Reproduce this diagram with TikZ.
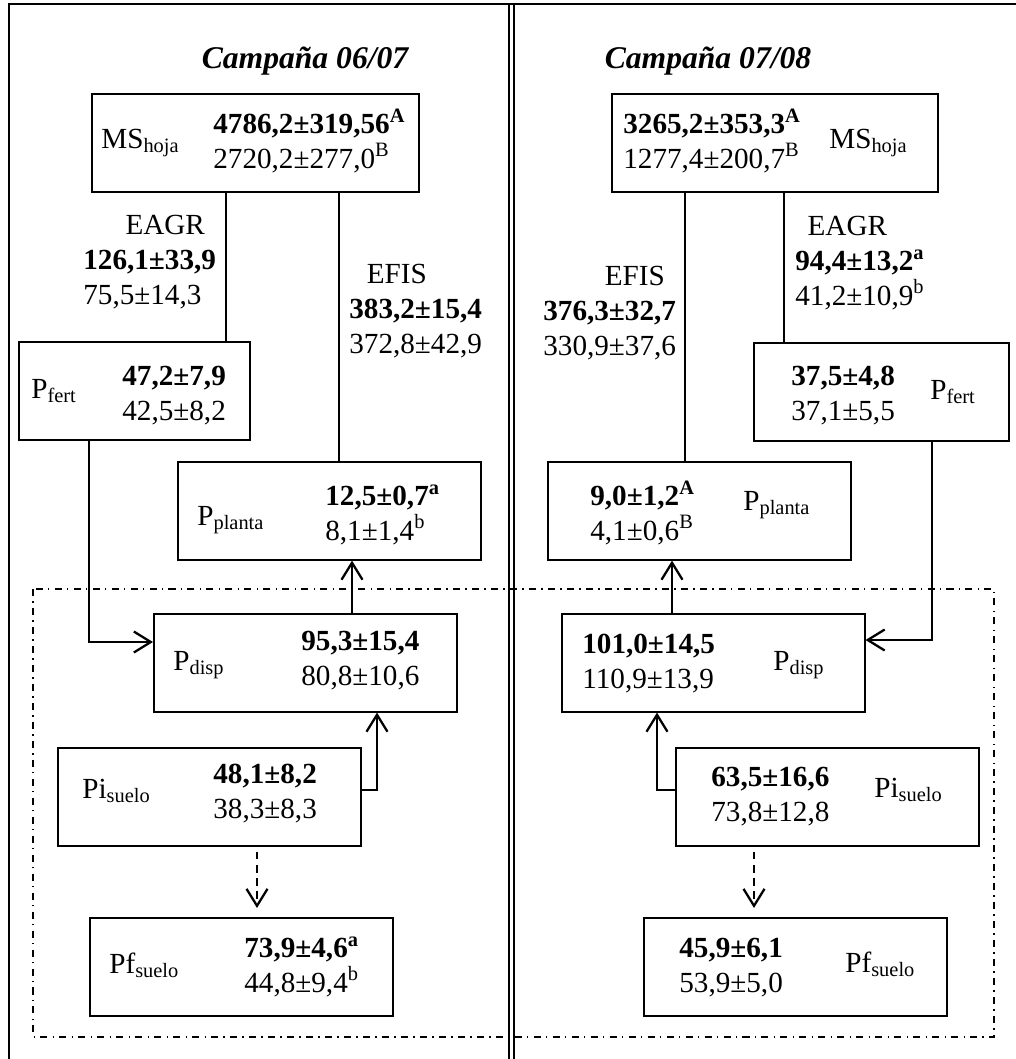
\documentclass[tikz,border=0pt]{standalone}
\usepackage{fontspec}
\setmainfont{Liberation Serif}
\usetikzlibrary{arrows.meta}
\tikzset{
  box/.style  = {rectangle, draw=black, line width=0.9pt, inner sep=0pt,
                 anchor=north west, minimum width=6.06cm, minimum height=1.96cm},
  txt/.style  = {anchor=base west, inner sep=0pt, align=left,
                 font=\fontsize{16.6}{19.8}\selectfont},
  ttl/.style  = {anchor=base, inner sep=0pt,
                 font=\fontsize{18}{22}\selectfont\bfseries\itshape},
  ln/.style   = {draw=black, line width=0.8pt},
  ar/.style   = {-{Straight Barb[length=0.34cm, width=0.42cm]}, draw=black, line width=1.3pt},
  dar/.style  = {ar, dash pattern=on 4.5pt off 3pt},
  frm/.style  = {draw=black, line width=1.2pt}
}

\begin{document}
\begin{tikzpicture}[x=0.02cm, y=-0.02cm]
  \useasboundingbox (0,0) rectangle (1016,1059);

  % ===================== marco y zona del suelo =====================
  \draw[line width=0.8pt, dash pattern=on 4pt off 3pt on 0.8pt off 3pt]
    (33,589) rectangle (994,1037);
  \draw[frm] (9,1059) -- (9,4) -- (1016,4);
  \draw[frm] (509,4) -- (509,1059);
  \draw[frm] (514,4) -- (514,1059);

  % ===================== Campaña 06/07 =====================
  \node[ttl] (t1) at (305,68) {Campaña 06/07};

  \node[box, minimum width=6.54cm] (msL) at (91,93) {};
  \node[txt] (msLn) at (101,148) {MS\textsubscript{hoja}};
  \node[txt] (msLv) at (213,168) {\textbf{4786,2±319,56\textsuperscript{A}}\\2720,2±277,0\textsuperscript{B}};

  \node[txt] (eagrL) at (83,304) {\hspace*{24pt}EAGR\\\textbf{126,1±33,9}\\75,5±14,3};
  \node[txt] (efisL) at (349,353) {\hspace*{10pt}EFIS\\\textbf{383,2±15,4}\\372,8±42,9};

  \node[box, minimum width=4.62cm] (pfL) at (18,341) {};
  \node[txt] (pfLn) at (31,398) {P\textsubscript{fert}};
  \node[txt] (pfLv) at (122,420) {\textbf{47,2±7,9}\\42,5±8,2};

  \node[box] (ppL) at (177,461) {};
  \node[txt] (ppLn) at (197,525) {P\textsubscript{planta}};
  \node[txt] (ppLv) at (325,540) {\textbf{12,5±0,7\textsuperscript{a}}\\8,1±1,4\textsuperscript{b}};

  \node[box] (pdL) at (153,613) {};
  \node[txt] (pdLn) at (173,670) {P\textsubscript{disp}};
  \node[txt] (pdLv) at (301,685) {\textbf{95,3±15,4}\\80,8±10,6};

  \node[box] (piL) at (57,747) {};
  \node[txt] (piLn) at (82,798) {Pi\textsubscript{suelo}};
  \node[txt] (piLv) at (213,818) {\textbf{48,1±8,2}\\38,3±8,3};

  \node[box] (psL) at (89,917) {};
  \node[txt] (psLn) at (109,973) {Pf\textsubscript{suelo}};
  \node[txt] (psLv) at (244,992) {\textbf{73,9±4,6\textsuperscript{a}}\\44,8±9,4\textsuperscript{b}};

  \coordinate (xa) at (226,0);
  \coordinate (xe) at (339,0);
  \coordinate (xp) at (352,0);
  \coordinate (cf) at (89,642);
  \coordinate (ci) at (377,790);
  \coordinate (xd) at (257,0);
  \draw[ln] (xa |- msL.south) -- (xa |- pfL.north);
  \draw[ln] (xe |- msL.south) -- (xe |- ppL.north);
  \draw[ar] (cf |- pfL.south) -- (cf) -- (cf -| pdL.west);
  \draw[ar] (xp |- pdL.north) -- (xp |- ppL.south);
  \draw[ar] (ci -| piL.east) -- (ci) -- (ci |- pdL.south);
  \draw[dar, shorten <=0.1cm, shorten >=0.18cm] (xd |- piL.south) -- (xd |- psL.north);

  % ===================== Campaña 07/08 =====================
  \node[ttl] (t2) at (708,68) {Campaña 07/08};

  \node[box, minimum width=6.52cm] (msR) at (611,93) {};
  \node[txt] (msRv) at (623,168) {\textbf{3265,2±353,3\textsuperscript{A}}\\1277,4±200,7\textsuperscript{B}};
  \node[txt] (msRn) at (829,148) {MS\textsubscript{hoja}};

  \node[txt] (efisR) at (543,355) {\hspace*{35pt}EFIS\\\textbf{376,3±32,7}\\330,9±37,6};
  \node[txt] (eagrR) at (795,305) {\hspace*{7pt}EAGR\\\textbf{94,4±13,2\textsuperscript{a}}\\41,2±10,9\textsuperscript{b}};

  \node[box, minimum width=5.1cm] (pfR) at (753,342) {};
  \node[txt] (pfRv) at (791,420) {\textbf{37,5±4,8}\\37,1±5,5};
  \node[txt] (pfRn) at (930,399) {P\textsubscript{fert}};

  \node[box] (ppR) at (547,461) {};
  \node[txt] (ppRv) at (590,540) {\textbf{9,0±1,2\textsuperscript{A}}\\4,1±0,6\textsuperscript{B}};
  \node[txt] (ppRn) at (743,510) {P\textsubscript{planta}};

  \node[box] (pdR) at (561,613) {};
  \node[txt] (pdRv) at (582,688) {\textbf{101,0±14,5}\\110,9±13,9};
  \node[txt] (pdRn) at (773,670) {P\textsubscript{disp}};

  \node[box] (piR) at (675,747) {};
  \node[txt] (piRv) at (711,821) {\textbf{63,5±16,6}\\73,8±12,8};
  \node[txt] (piRn) at (874,797) {Pi\textsubscript{suelo}};

  \node[box] (psR) at (643,917) {};
  \node[txt] (psRv) at (679,992) {\textbf{45,9±6,1}\\53,9±5,0};
  \node[txt] (psRn) at (845,972) {Pf\textsubscript{suelo}};

  \coordinate (xb) at (685,0);
  \coordinate (xg) at (784,0);
  \coordinate (xq) at (672,0);
  \coordinate (cg) at (932,640);
  \coordinate (cj) at (657,790);
  \coordinate (xk) at (754,0);
  \draw[ln] (xb |- msR.south) -- (xb |- ppR.north);
  \draw[ln] (xg |- msR.south) -- (xg |- pfR.north);
  \draw[ar] (cg |- pfR.south) -- (cg) -- (cg -| pdR.east);
  \draw[ar] (xq |- pdR.north) -- (xq |- ppR.south);
  \draw[ar] (cj -| piR.west) -- (cj) -- (cj |- pdR.south);
  \draw[dar, shorten <=0.1cm, shorten >=0.18cm] (xk |- piR.south) -- (xk |- psR.north);
\end{tikzpicture}
\end{document}
